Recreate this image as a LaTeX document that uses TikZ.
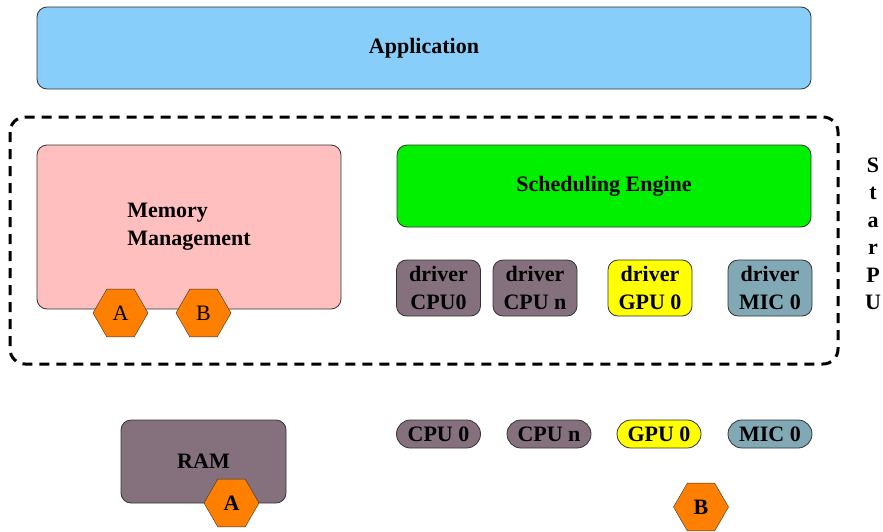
\documentclass[tikz,border=0pt]{standalone}
\usepackage{fontspec}
\setmainfont{Liberation Serif}
\usetikzlibrary{shapes.geometric}

\definecolor{appblue}{HTML}{87CEFA}
\definecolor{mempink}{HTML}{FFBFBF}
\definecolor{schedgreen}{HTML}{00F000}
\definecolor{cpugray}{HTML}{85707E}
\definecolor{gpuyellow}{HTML}{FFFF00}
\definecolor{micteal}{HTML}{80A8B5}
\definecolor{hexorange}{HTML}{FF8000}

\tikzset{
	block/.style={draw=black!80, line width=0.8pt, rounded corners=10pt,
		font=\bfseries\fontsize{22}{28}\selectfont, align=center, inner sep=0pt},
	drvbox/.style={block, minimum width=84pt, minimum height=56pt},
	unitbox/.style={block, rounded corners=14pt, minimum width=84pt, minimum height=28pt},
	hexa/.style={regular polygon, regular polygon sides=6, draw=black!80,
		fill=hexorange, minimum size=55pt, inner sep=0pt, font=\fontsize{22}{26}\selectfont},
}

\begin{document}
\begin{tikzpicture}[x=1pt,y=-1pt]
	\useasboundingbox (0,0) rectangle (883,531);
	% application layer
	\node[block, fill=appblue, minimum width=774pt, minimum height=82pt]
		(app) at (424,48) {Application};
	% runtime frame
	\draw[line width=3pt, dash pattern=on 10pt off 7pt, rounded corners=15pt]
		(10,117) rectangle (838,364);
	\node[font=\bfseries\fontsize{22}{27.5}\selectfont, align=center]
		(starpu) at (873,234) {S\\t\\a\\r\\P\\U};
	\node[block, fill=mempink, minimum width=304pt, minimum height=164pt, align=left]
		(mem) at (189,227) {Memory\\Management};
	\node[block, fill=schedgreen, minimum width=414pt, minimum height=82pt]
		(sched) at (604,186) {Scheduling Engine};
	% drivers
	\node[drvbox, fill=cpugray] (drvcpu0) at (438.5,288) {driver\\CPU0};
	\node[drvbox, fill=cpugray] (drvcpun) at (535,288) {driver\\CPU n};
	\node[drvbox, fill=gpuyellow] (drvgpu0) at (650,288) {driver\\GPU 0};
	\node[drvbox, fill=micteal] (drvmic0) at (770,288) {driver\\MIC 0};
	\node[hexa] (memA) at (120.5,313) {A};
	\node[hexa] (memB) at (203.5,313) {B};
	% hardware
	\node[block, fill=cpugray, minimum width=165pt, minimum height=83pt]
		(ram) at (203.5,461.5) {RAM};
	\node[unitbox, fill=cpugray] (cpu0) at (438.5,434) {CPU 0};
	\node[unitbox, fill=cpugray] (cpun) at (549,434) {CPU n};
	\node[unitbox, fill=gpuyellow] (gpu0) at (659,434) {GPU 0};
	\node[unitbox, fill=micteal] (mic0) at (770,434) {MIC 0};
	\node[hexa, font=\bfseries\fontsize{22}{26}\selectfont] (ramA) at (231.5,503) {A};
	\node[hexa, font=\bfseries\fontsize{22}{26}\selectfont] (gpuB) at (701,507) {B};
\end{tikzpicture}
\end{document}
